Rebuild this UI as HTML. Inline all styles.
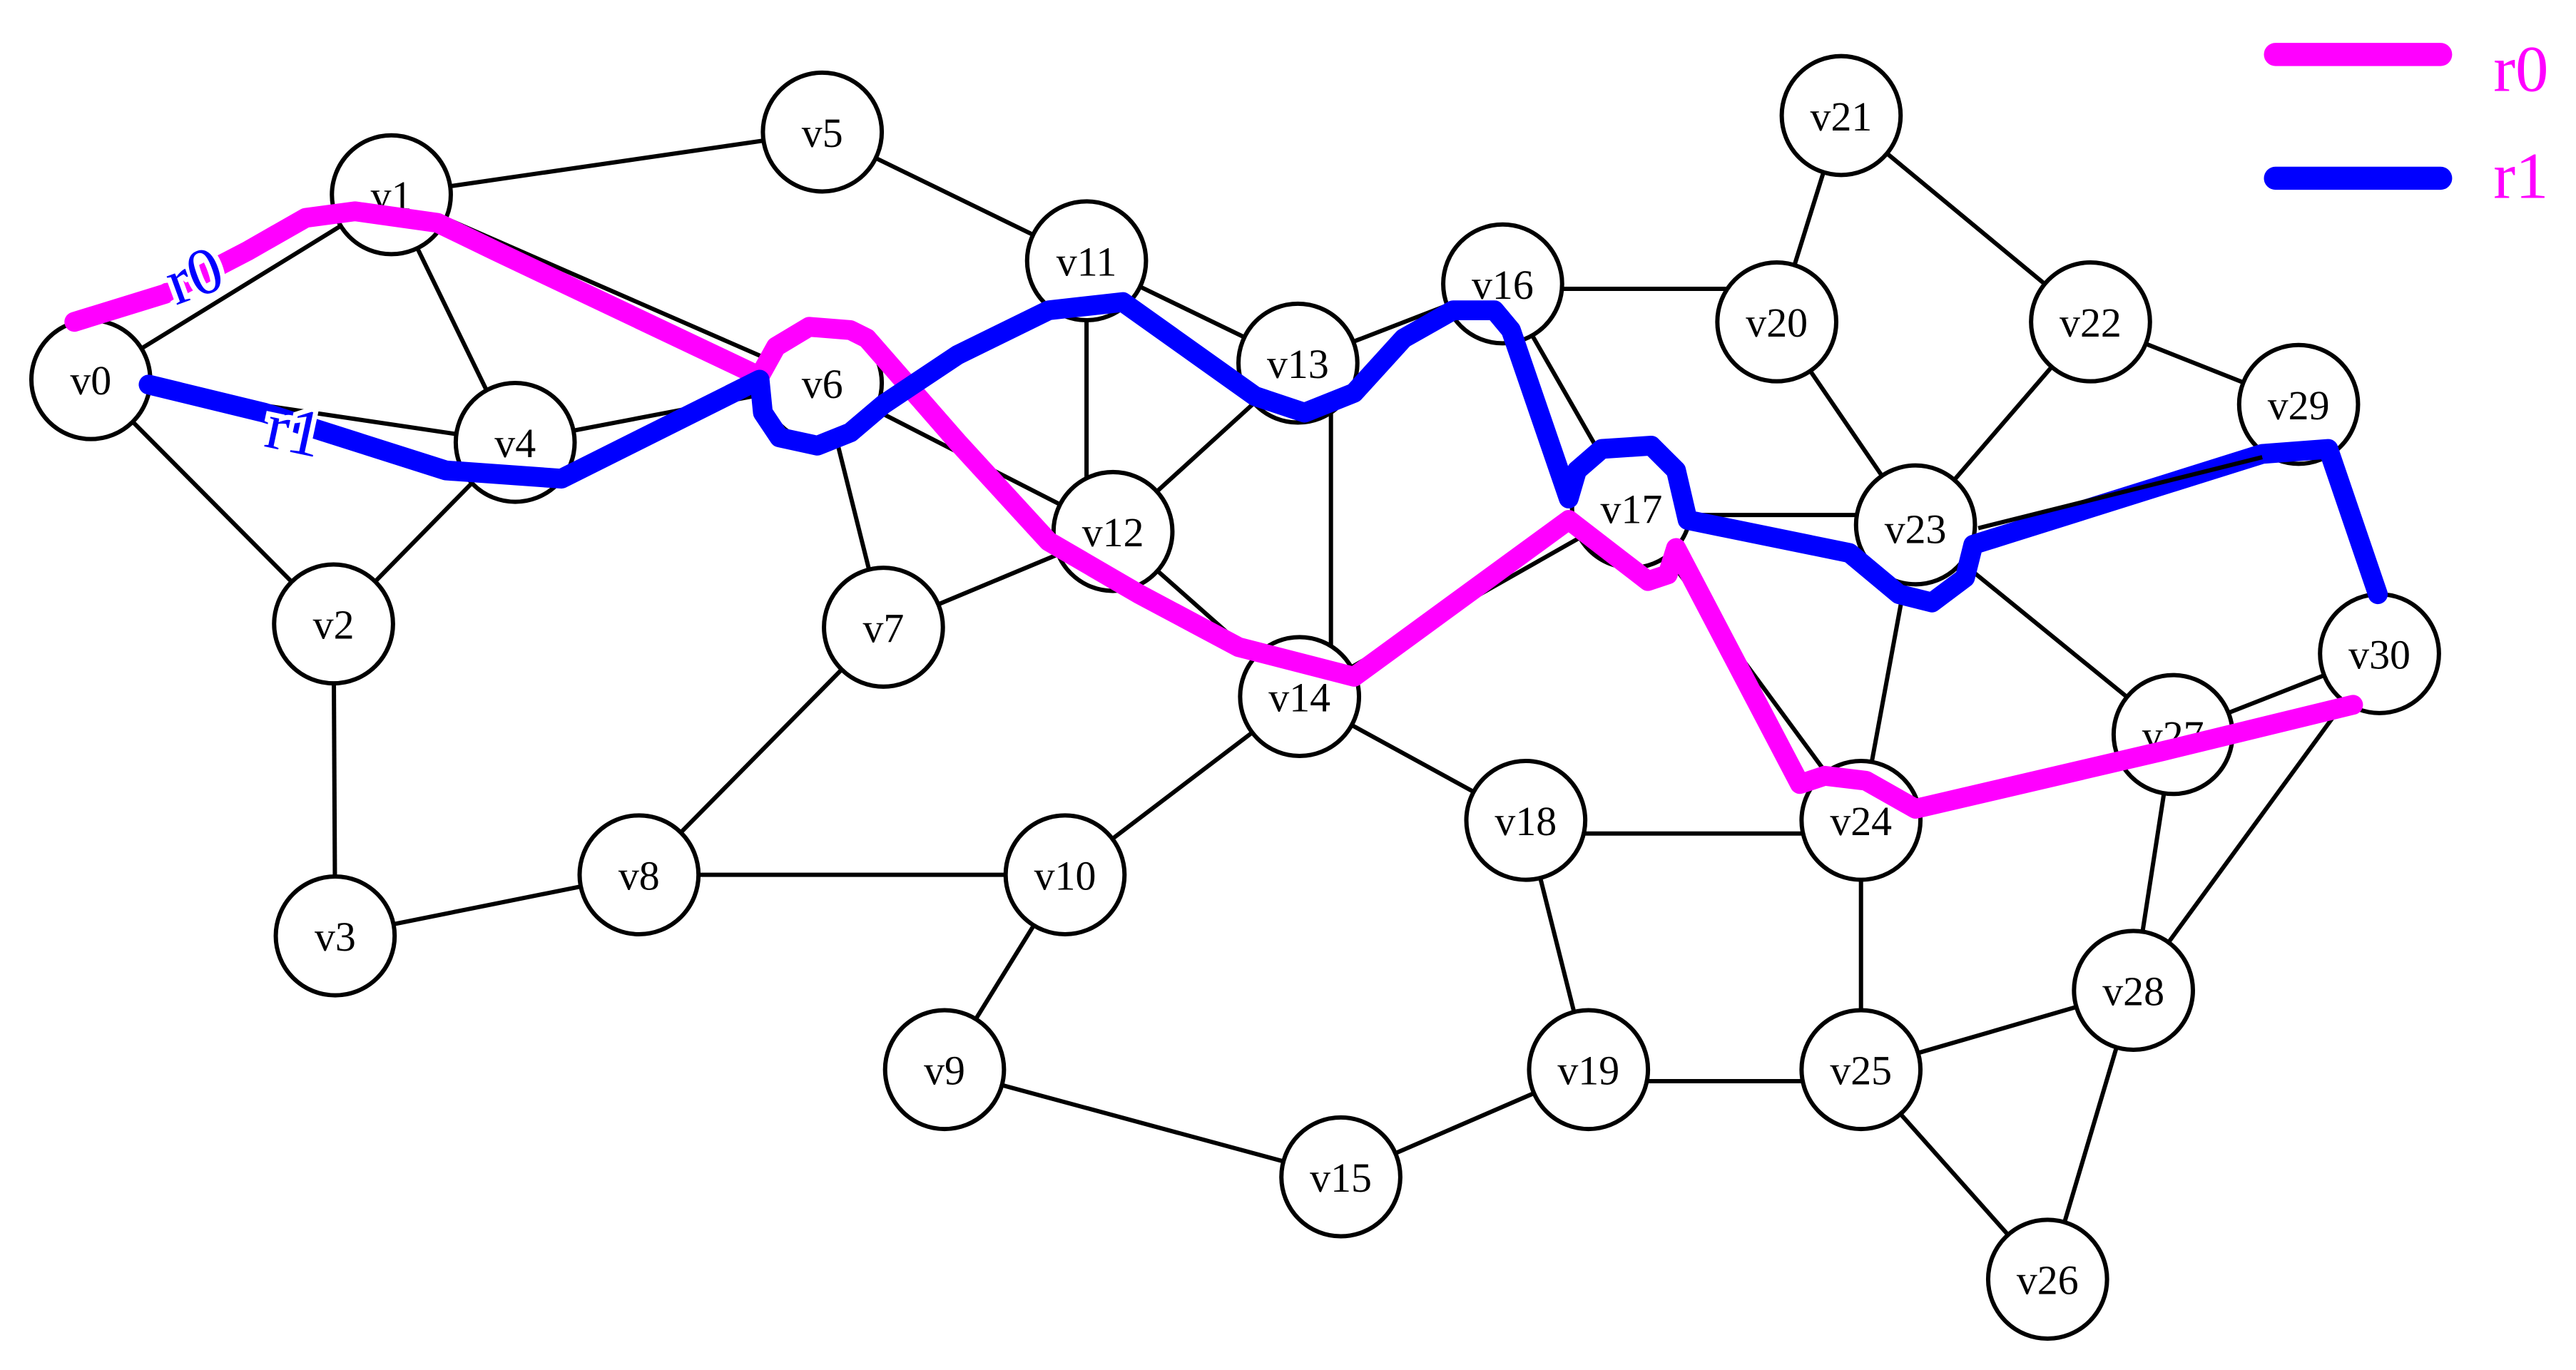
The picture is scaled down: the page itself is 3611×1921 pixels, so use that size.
<!DOCTYPE html>
<html><head><meta charset="utf-8"><style>
html,body{margin:0;padding:0;background:#fff;}
svg{display:block;}
text{font-family:"Liberation Serif",serif;}
</style></head><body>
<svg width="3611" height="1921" viewBox="0 0 1560 830" preserveAspectRatio="none" xmlns="http://www.w3.org/2000/svg">
<rect width="1560" height="830" fill="#fff"/>
<g stroke="#000" stroke-width="2.6" fill="none">
<line x1="55" y1="230" x2="237" y2="118"/>
<line x1="55" y1="230" x2="310" y2="268"/>
<line x1="55" y1="230" x2="202" y2="378"/>
<line x1="237" y1="118" x2="498" y2="80"/>
<line x1="237" y1="118" x2="310" y2="268"/>
<line x1="237" y1="118" x2="498" y2="232"/>
<line x1="202" y1="378" x2="310" y2="268"/>
<line x1="202" y1="378" x2="203" y2="567"/>
<line x1="203" y1="567" x2="387" y2="530"/>
<line x1="310" y1="268" x2="498" y2="232"/>
<line x1="498" y1="80" x2="658" y2="158"/>
<line x1="498" y1="232" x2="535" y2="380"/>
<line x1="498" y1="232" x2="674" y2="322"/>
<line x1="535" y1="380" x2="674" y2="322"/>
<line x1="535" y1="380" x2="387" y2="530"/>
<line x1="387" y1="530" x2="645" y2="530"/>
<line x1="645" y1="530" x2="787" y2="422"/>
<line x1="645" y1="530" x2="572" y2="648"/>
<line x1="572" y1="648" x2="812" y2="713"/>
<line x1="812" y1="713" x2="962" y2="648"/>
<line x1="658" y1="158" x2="658" y2="322"/>
<line x1="658" y1="158" x2="786" y2="220"/>
<line x1="674" y1="322" x2="786" y2="220"/>
<line x1="674" y1="322" x2="787" y2="422"/>
<line x1="806" y1="220" x2="806" y2="422"/>
<line x1="786" y1="220" x2="910" y2="172"/>
<line x1="910" y1="175" x2="1076" y2="175"/>
<line x1="910" y1="172" x2="988" y2="308"/>
<line x1="787" y1="422" x2="924" y2="497"/>
<line x1="787" y1="422" x2="988" y2="308"/>
<line x1="988" y1="312" x2="1160" y2="312"/>
<line x1="988" y1="308" x2="1127" y2="497"/>
<line x1="924" y1="505" x2="1127" y2="505"/>
<line x1="924" y1="497" x2="962" y2="648"/>
<line x1="962" y1="655" x2="1127" y2="655"/>
<line x1="1076" y1="195" x2="1115" y2="70"/>
<line x1="1076" y1="195" x2="1160" y2="318"/>
<line x1="1115" y1="70" x2="1266" y2="195"/>
<line x1="1266" y1="195" x2="1160" y2="318"/>
<line x1="1266" y1="195" x2="1392" y2="245"/>
<line x1="1160" y1="318" x2="1127" y2="497"/>
<line x1="1160" y1="318" x2="1316" y2="445"/>
<line x1="1127" y1="497" x2="1127" y2="648"/>
<line x1="1127" y1="648" x2="1292" y2="600"/>
<line x1="1127" y1="648" x2="1240" y2="775"/>
<line x1="1240" y1="775" x2="1292" y2="600"/>
<line x1="1316" y1="445" x2="1292" y2="600"/>
<line x1="1316" y1="445" x2="1441" y2="396"/>
<line x1="1292" y1="600" x2="1441" y2="396"/>
</g>
<g stroke="#000" stroke-width="2.6" fill="#fff">
<circle cx="55" cy="230" r="36"/><circle cx="237" cy="118" r="36"/><circle cx="202" cy="378" r="36"/>
<circle cx="203" cy="567" r="36"/><circle cx="312" cy="268" r="36"/><circle cx="498" cy="80" r="36"/>
<circle cx="498" cy="232" r="36"/><circle cx="535" cy="380" r="36"/><circle cx="387" cy="530" r="36"/>
<circle cx="572" cy="648" r="36"/><circle cx="645" cy="530" r="36"/><circle cx="658" cy="158" r="36"/>
<circle cx="674" cy="322" r="36"/><circle cx="786" cy="220" r="36"/><circle cx="787" cy="422" r="36"/>
<circle cx="812" cy="713" r="36"/><circle cx="910" cy="172" r="36"/><circle cx="988" cy="308" r="36"/>
<circle cx="924" cy="497" r="36"/><circle cx="962" cy="648" r="36"/><circle cx="1076" cy="195" r="36"/>
<circle cx="1115" cy="70" r="36"/><circle cx="1266" cy="195" r="36"/><circle cx="1160" cy="318" r="36"/>
<circle cx="1127" cy="497" r="36"/><circle cx="1127" cy="648" r="36"/><circle cx="1240" cy="775" r="36"/>
<circle cx="1316" cy="445" r="36"/><circle cx="1292" cy="600" r="36"/><circle cx="1392" cy="245" r="36"/>
<circle cx="1441" cy="396" r="36"/>
</g>
<g font-size="25" text-anchor="middle" fill="#000">
<text x="55" y="239">v0</text><text x="237" y="127">v1</text><text x="202" y="387">v2</text>
<text x="203" y="576">v3</text><text x="312" y="277">v4</text><text x="498" y="89">v5</text>
<text x="498" y="241">v6</text><text x="535" y="389">v7</text><text x="387" y="539">v8</text>
<text x="572" y="657">v9</text><text x="645" y="539">v10</text><text x="658" y="167">v11</text>
<text x="674" y="331">v12</text><text x="786" y="229">v13</text><text x="787" y="431">v14</text>
<text x="812" y="722">v15</text><text x="910" y="181">v16</text><text x="988" y="317">v17</text>
<text x="924" y="506">v18</text><text x="962" y="657">v19</text><text x="1076" y="204">v20</text>
<text x="1115" y="79">v21</text><text x="1266" y="204">v22</text><text x="1160" y="329">v23</text>
<text x="1127" y="506">v24</text><text x="1127" y="657">v25</text><text x="1240" y="784">v26</text>
<text x="1316" y="454">v27</text><text x="1292" y="609">v28</text><text x="1392" y="254">v29</text>
<text x="1441" y="405">v30</text>
</g>
<path d="M45,195 L100,178 L150,152 L185,132 L215,128 L265,135 L300,152 L460,228 L470,210 L490,198 L515,200 L525,205 L580,268 L635,328 L690,360 L750,392 L820,410 L950,315 L985,342 L998,352 L1010,348 L1015,332 L1090,475 L1105,470 L1130,473 L1160,490 L1310,455 L1425,427" fill="none" stroke="#ff00ff" stroke-width="12" stroke-linecap="round" stroke-linejoin="round"/>
<path d="M90,233 L160,250 L270,285 L340,290 L460,230 L462,250 L472,265 L495,270 L515,262 L535,245 L580,215 L635,188 L680,183 L760,240 L790,250 L820,238 L850,205 L880,188 L905,188 L915,200 L950,302 L955,285 L970,272 L1000,270 L1015,285 L1022,315 L1120,335 L1150,360 L1170,365 L1190,350 L1195,330 L1370,275 L1410,272 L1440,360" fill="none" stroke="#0000ff" stroke-width="12" stroke-linecap="round" stroke-linejoin="round"/>
<line x1="1198" y1="320" x2="1370" y2="277" stroke="#000" stroke-width="2.6"/>
<g font-size="40" fill="#0000ff" stroke="#fff" stroke-width="6" paint-order="stroke">
<text x="118" y="180" text-anchor="middle" transform="rotate(-20 118 168)">r0</text>
<text x="178" y="274" text-anchor="middle" transform="rotate(12 178 262)">r1</text>
</g>
<line x1="1378" y1="33" x2="1478" y2="33" stroke="#ff00ff" stroke-width="14" stroke-linecap="round"/>
<line x1="1378" y1="108" x2="1478" y2="108" stroke="#0000ff" stroke-width="14" stroke-linecap="round"/>
<g font-size="40" fill="#ff00ff">
<text x="1510" y="55">r0</text>
<text x="1510" y="120">r1</text>
</g>
</svg>
</body></html>
